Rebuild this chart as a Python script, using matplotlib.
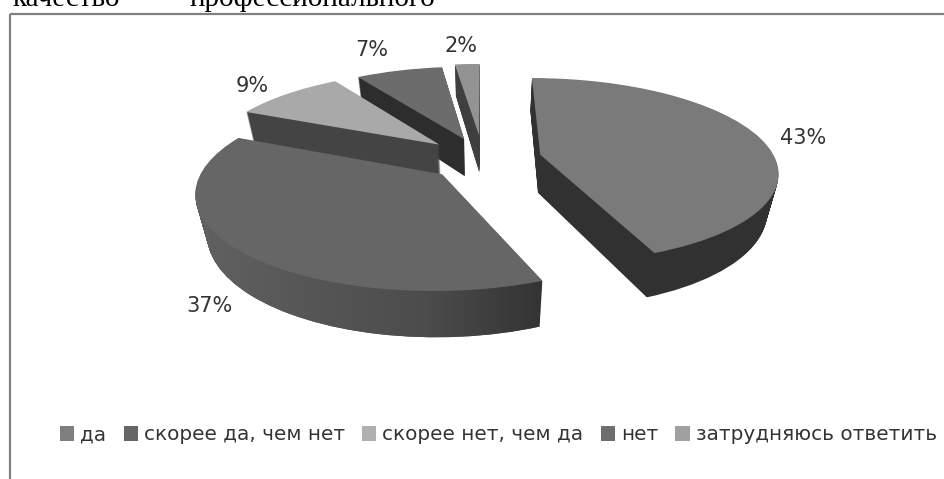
import numpy as np
import matplotlib
matplotlib.use("Agg")
import matplotlib.pyplot as plt
from matplotlib.patches import Rectangle
from matplotlib.path import Path
from matplotlib.transforms import Transform
from matplotlib.colors import LinearSegmentedColormap

# data
categories = ["да", "скорее да, чем нет", "скорее нет, чем да", "нет", "затрудняюсь ответить"]
values = [43, 37, 9, 7, 2]
explode = [0.25, 0.235, 0.25, 0.24, 0.27]

# styles
top_colors = ["#7a7a7a", "#666666", "#a9a9a9", "#6c6c6c", "#939393"]
wall_colors = ["#313131", "#4a4a4a", "#444444", "#2d2d2d", "#3f3f3f"]
legend_colors = ["#7f7f7f", "#666666", "#b0b0b0", "#6e6e6e", "#a0a0a0"]
paint_order = [4, 3, 2, 1, 0]  # back to front
label_pos = [(803, 138), (209, 306), (252, 86), (372, 50), (461, 46)]

WIDTH, HEIGHT = 944, 479
CX, CY = 483, 159
RX, RY = 235, 91
PERSP, SHRINK = 0.17, 0.04
DEPTH, SPREAD = 40, 0.04
N_LAYERS = 50


class PieView(Transform):
    """Perspective view of the flat pie, z=0 top face, z=1 bottom face."""
    input_dims = 2
    output_dims = 2

    def __init__(self, z=0.0):
        super().__init__()
        self.z = z

    def transform_non_affine(self, xy):
        xy = np.asarray(xy, dtype=float)
        w = 1 + PERSP * xy[:, 1] + SHRINK * self.z
        px = CX + RX * xy[:, 0] / w
        py = CY + (-RY * xy[:, 1] * (1 + SPREAD * self.z) + DEPTH * self.z) / w
        return np.column_stack([px, py])


fig = plt.figure(figsize=(WIDTH / 100, HEIGHT / 100), dpi=100)
ax = fig.add_axes([0, 0, 1, 1])

# walls: the same pie stacked from bottom to top
wall_paths = []
for i, z in enumerate(np.linspace(1, 0, N_LAYERS)):
    is_top = i == N_LAYERS - 1
    colors = top_colors if is_top else wall_colors
    wedges, _ = ax.pie(values, explode=explode, colors=colors, startangle=90,
                       counterclock=False, wedgeprops={"linewidth": 0})
    view = PieView(z)
    for k, w in enumerate(wedges):
        w.set_transform(view + ax.transData)
        w.set_zorder(10 * paint_order[k] + (2 if is_top else 0))
    if not is_top:
        wall_paths.append(view.transform_path_non_affine(wedges[1].get_path()))

# the big left slice has a shaded rim
shade = LinearSegmentedColormap.from_list("rim", ["#626262", "#565656", "#4c4c4c", "#333333"])
im = ax.imshow(np.linspace(0, 1, 256)[None, :], cmap=shade, extent=(190, 545, 360, 120),
               aspect="auto", zorder=10 * paint_order[1] + 1)
im.set_clip_path(Path.make_compound_path(*wall_paths), ax.transData)

ax.set_aspect("auto")
ax.set_xlim(0, WIDTH)
ax.set_ylim(HEIGHT, 0)
ax.axis("off")

for v, (x, y) in zip(values, label_pos):
    ax.text(x, y, f"{v}%", ha="center", va="center", fontsize=15, color="#333333", zorder=100)

# frame of the chart, runs off the page on the right and bottom
ax.add_patch(Rectangle((9.5, 13.5), 940, 480, facecolor="none", edgecolor="#808080",
                       linewidth=1.6, zorder=90))

# scanned heading, cut by the page top
ax.text(13, 6, "качество", family="Liberation Serif", fontsize=21, ha="left", va="baseline",
        color="black", clip_on=False)
ax.text(190, 6, "профессионального", family="Liberation Serif", fontsize=21, ha="left",
        va="baseline", color="black", clip_on=False)

handles = [Rectangle((0, 0), 1, 1, facecolor=c, linewidth=0) for c in legend_colors]
ax.legend(handles, categories, ncol=5, loc="center left", bbox_to_anchor=(60 / WIDTH, 1 - 435 / HEIGHT),
          frameon=False, fontsize=14.4, handlelength=0.72, handleheight=0.72, handletextpad=0.3,
          columnspacing=0.85, borderpad=0, borderaxespad=0, labelcolor="#333333")

fig.savefig("out.png", dpi=100)
